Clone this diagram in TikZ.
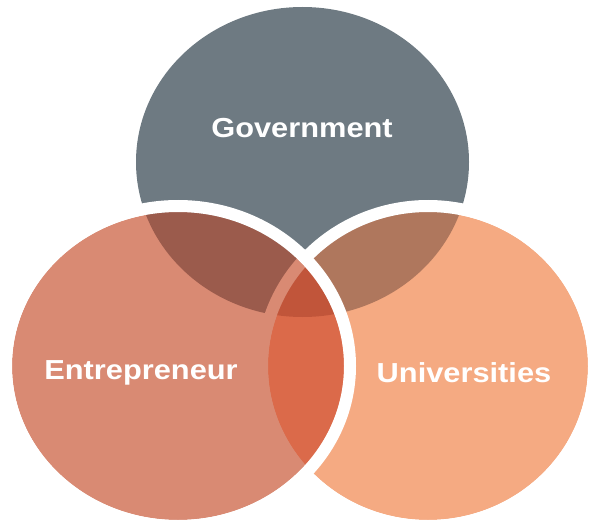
\documentclass[tikz,border=0pt]{standalone}
\usepackage{fontspec}
\setmainfont{Liberation Sans}[FakeStretch=1.12]
\usepackage{tikz}

\definecolor{GovGray}{HTML}{6E7A82}
\definecolor{EntSalmon}{HTML}{D98A73}
\definecolor{UniPeach}{HTML}{F5AA82}
\definecolor{GovEnt}{HTML}{9B5B4C}
\definecolor{GovUni}{HTML}{AF775D}
\definecolor{EntUni}{HTML}{DB6A4A}
\definecolor{AllThree}{HTML}{C1553A}

\begin{document}
\begin{tikzpicture}[x=1pt,y=-1pt,
      setname/.style = {text=white, font=\bfseries\fontsize{27.5}{27.5}\selectfont},
      ring/.style = {draw=white, line width=12pt}]

  \useasboundingbox (0,0) rectangle (589,524);
  \fill[white] (0,0) rectangle (589,524);

  % Set Government
  \fill[GovGray] (302.5,162) ellipse [x radius=166.5, y radius=155];

  % Set Universities
  \fill[UniPeach] (428,366) ellipse [x radius=160, y radius=154];
  \begin{scope}
      \clip (428,366) ellipse [x radius=160, y radius=154];
      \fill[GovUni] (302.5,162) ellipse [x radius=166.5, y radius=155];
  \end{scope}
  \draw[ring] (428,366) ellipse [x radius=166, y radius=160];

  % Set Entrepreneur
  \fill[EntSalmon] (178,366) ellipse [x radius=166, y radius=154];
  \begin{scope}
      \clip (178,366) ellipse [x radius=166, y radius=154];
      \fill[GovEnt] (302.5,162) ellipse [x radius=166.5, y radius=155];
      \begin{scope}
          \clip (428,366) ellipse [x radius=160, y radius=154];
          \fill[EntUni] (428,366) ellipse [x radius=160, y radius=154];
          \fill[AllThree] (302.5,162) ellipse [x radius=166.5, y radius=155];
      \end{scope}
      \draw[EntSalmon, line width=12pt] (428,366) ellipse [x radius=166, y radius=160];
  \end{scope}
  % Circle outline
  \draw[ring] (178,366) ellipse [x radius=172, y radius=160];

  % Names
  \node[setname] (gov) at (302,128) {Government};
  \node[setname] (ent) at (141,373) {Entrepreneur};
  \node[setname] (uni) at (464,373) {Universities};

\end{tikzpicture}
\end{document}
